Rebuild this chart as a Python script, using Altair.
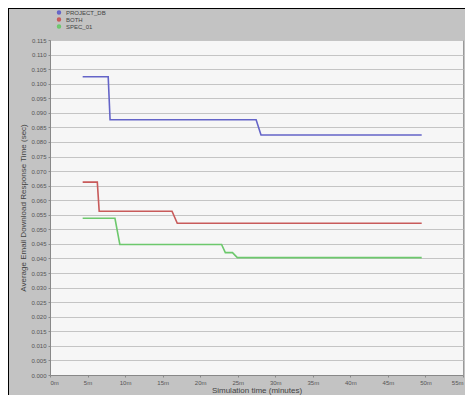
import altair as alt
import pandas as pd

series_names = ["PROJECT_DB", "BOTH", "SPEC_01"]
colors = ["#6464c8", "#c85a5a", "#6cc86c"]

blue_x = [8.7, 15.5, 16.0, 54.9, 56.2, 99.0]
blue_y = [0.1024, 0.1024, 0.0876, 0.0876, 0.0824, 0.0824]
red_x = [8.7, 12.6, 13.1, 32.5, 33.9, 99.0]
red_y = [0.0662, 0.0662, 0.0562, 0.0562, 0.0521, 0.0521]
green_x = [8.7, 17.3, 18.6, 45.7, 46.7, 48.6, 49.9, 99.0]
green_y = [0.0538, 0.0538, 0.0448, 0.0448, 0.0420, 0.0420, 0.0403, 0.0403]

x_ticks = [0, 10, 20, 30, 40, 50, 60, 70, 80, 90, 100, 110]
x_labels = ["0m", "5m", "10m", "15m", "20m", "25m", "30m", "35m", "40m", "45m", "50m", "55m"]
y_ticks = [round(i * 0.005, 3) for i in range(24)]

rows = []
for name, xs, ys in zip(series_names, [blue_x, red_x, green_x], [blue_y, red_y, green_y]):
    for i, (xv, yv) in enumerate(zip(xs, ys)):
        rows.append({"series": name, "x": xv, "y": yv, "order": i})
df = pd.DataFrame(rows)

label_expr = "{" + ",".join(f"'{t}':'{l}'" for t, l in zip(x_ticks, x_labels)) + "}[datum.value]"

lines = alt.Chart(df).mark_line(strokeWidth=1.6).encode(
    x=alt.X("x:Q", scale=alt.Scale(domain=[0, 110], nice=False),
            axis=alt.Axis(values=x_ticks, labelExpr=label_expr, grid=False,
                          title="Simulation time (minutes)", labelFontSize=6,
                          titleFontSize=8, titleFontWeight="normal", labelColor="#555",
                          titleColor="#444", tickColor="#888", domainColor="#888",
                          tickSize=2, labelPadding=2, titlePadding=1)),
    y=alt.Y("y:Q", scale=alt.Scale(domain=[0, 0.115], nice=False),
            axis=alt.Axis(values=y_ticks, format=".3f", grid=True, gridColor="#c4c4c4",
                          title="Average Email Download Response Time (sec)",
                          labelFontSize=6, titleFontSize=8, titleFontWeight="normal",
                          labelColor="#555", titleColor="#444", tickColor="#888",
                          domainColor="#888", tickSize=2, labelPadding=2, titlePadding=3)),
    color=alt.Color("series:N", scale=alt.Scale(domain=series_names, range=colors),
                    legend=alt.Legend(orient="none", legendX=6, legendY=-31, title=None,
                                      labelFontSize=6, labelColor="#444", symbolSize=6,
                                      symbolStrokeWidth=2, symbolType="circle",
                                      rowPadding=0, clipHeight=7, labelLimit=80)),
    order="order:Q",
    detail="series:N",
)

border = alt.Chart(pd.DataFrame({"a": [0]})).mark_rule(color="#000", strokeWidth=2).encode(
    x=alt.value(-42), x2=alt.value(-42), y=alt.value(-32), y2=alt.value(355)
)
border_top = alt.Chart(pd.DataFrame({"a": [0]})).mark_rule(color="#000", strokeWidth=2).encode(
    x=alt.value(-42), x2=alt.value(415), y=alt.value(-32), y2=alt.value(-32)
)

chart = alt.layer(lines, border, border_top).properties(
    width=413, height=335,
    background="#c3c3c3",
    autosize=alt.AutoSizeParams(type="none"),
    padding={"left": 42, "top": 32, "right": 2, "bottom": 20},
).configure_view(fill="#f6f6f6", stroke="#999")

chart.save("out.html", embed_options={"renderer": "svg", "actions": False})
